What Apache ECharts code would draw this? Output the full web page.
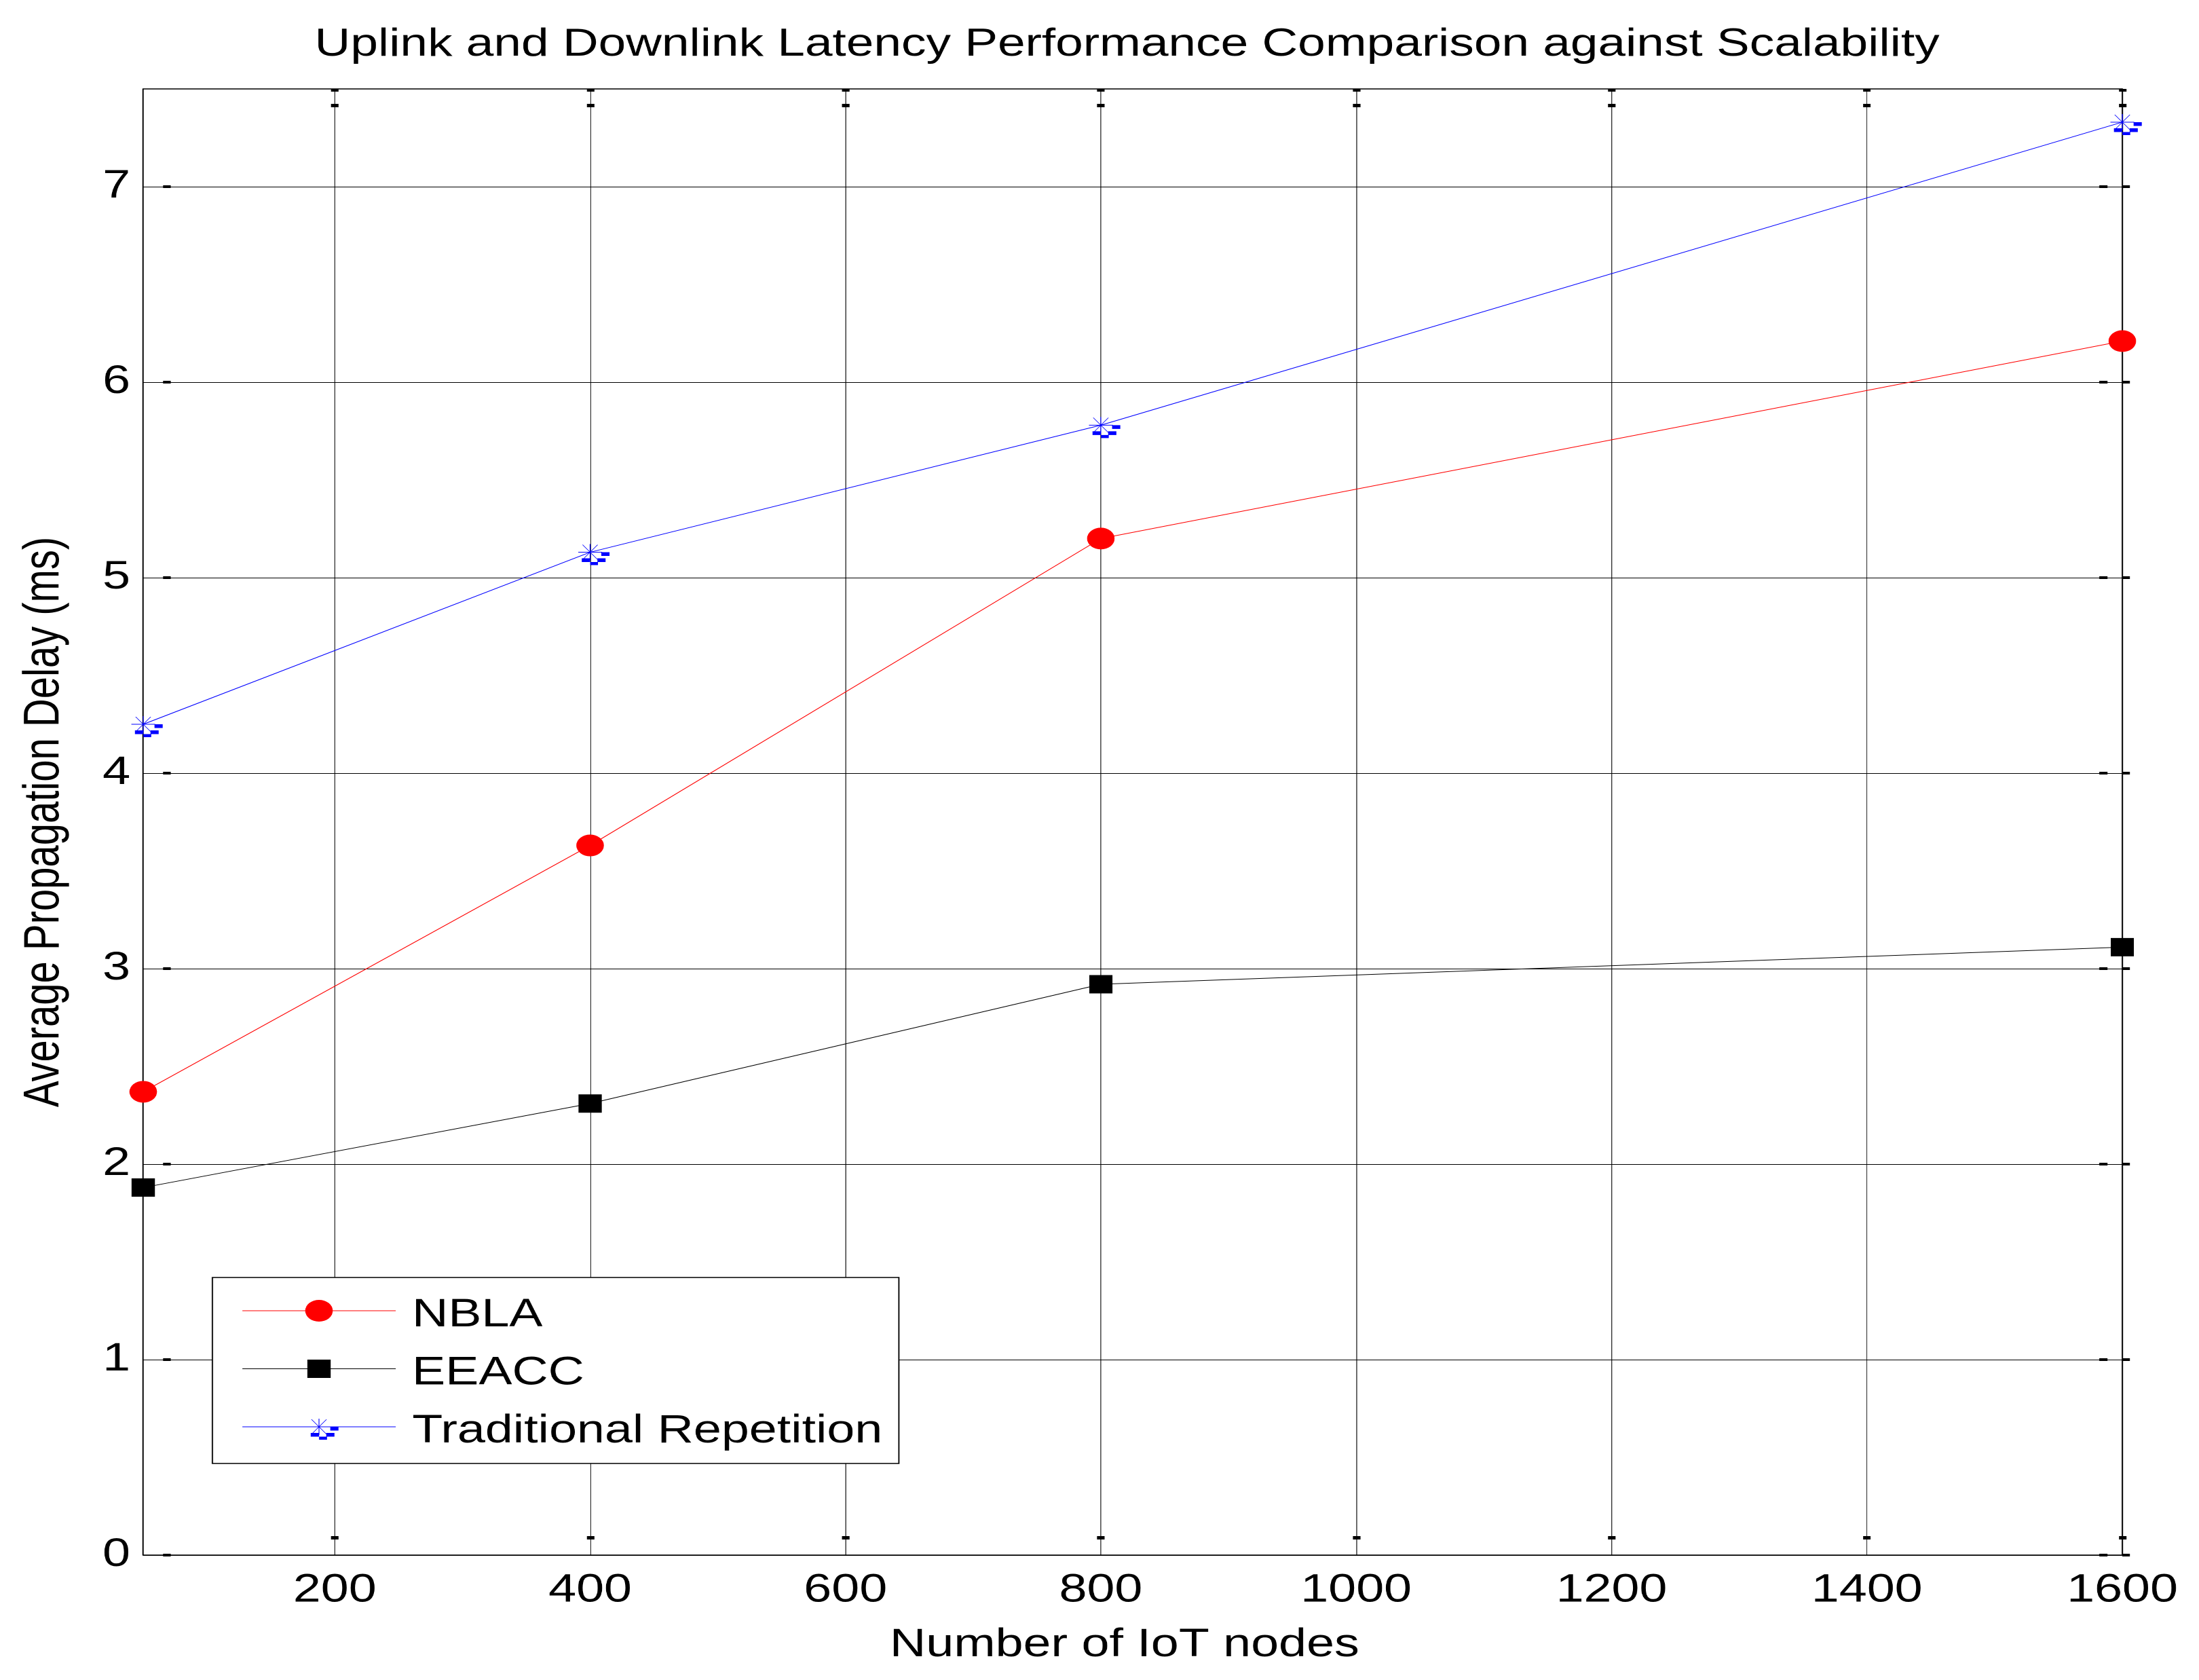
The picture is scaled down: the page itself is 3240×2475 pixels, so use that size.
<!DOCTYPE html>
<html>
<head>
<meta charset="utf-8">
<script src="https://cdn.jsdelivr.net/npm/echarts@6/dist/echarts.min.js"></script>
<style>
  html, body { margin: 0; padding: 0; background: #fff; overflow: hidden; }
  /* the reference figure is stretched sideways, so draw narrow and stretch the same way */
  #chart { width: 2552px; height: 2475px; transform: scaleX(1.269592); transform-origin: 0 0; }
</style>
</head>
<body>
<div id="chart"></div>
<script>
/* ── data ── */
const nodes = [50, 400, 800, 1600];
const nblaDelay = [2.37, 3.63, 5.20, 6.21];
const eeaccDelay = [1.88, 2.31, 2.92, 3.11];
const tradDelay = [4.25, 5.13, 5.78, 7.33];

const xTicks = [200, 400, 600, 800, 1000, 1200, 1400, 1600];
const yTicks = [0, 1, 2, 3, 4, 5, 6, 7];

const seriesNames = ['NBLA', 'EEACC', 'Traditional Repetition'];

/* ── look ── */
const FONT = 'Liberation Sans';
const FS = 58;

// asterisk marker with the little pixel blocks under it (centre at 0,0)
function starPath(dx, dy) {
  const p = (x, y) => (x + dx).toFixed(2) + ' ' + (y + dy).toFixed(2);
  const rect = (x0, y0, x1, y1) => 'M' + p(x0, y0) + ' L' + p(x1, y0) + ' L' + p(x1, y1) + ' L' + p(x0, y1) + ' Z ';
  return rect(-13.8, -0.5, 13.8, 0.5) +
    rect(-0.45, -12, 0.45, 12) +
    'M' + p(-9.2, -11) + ' L' + p(-8.3, -11) + ' L' + p(9.2, 11) + ' L' + p(8.3, 11) + ' Z ' +
    'M' + p(8.3, -11) + ' L' + p(9.2, -11) + ' L' + p(-8.3, 11) + ' L' + p(-9.2, 11) + ' Z ' +
    rect(13.1, 0, 22.6, 5.5) +
    rect(-9.7, 9, 0, 14.5) +
    rect(8.4, 9, 17.9, 14.5) +
    rect(0, 14.5, 9.2, 19);
}
const starSymbol = 'path://' + starPath(0, 0) + 'M-23 -23 L-23 -23 Z M23 23 L23 23 Z';

// legend icons: short line + marker, box 192 x 54, line sits at y=20 so the text lands a bit lower
const iconBox = 'M0 0 L0 0 Z M192 54 L192 54 Z ';
const iconLine = 'M0 19.5 L178 19.5 L178 20.5 L0 20.5 Z ';
const legendIcons = [
  'path://' + iconBox + iconLine + 'M73 20 A16 16 0 1 1 105 20 A16 16 0 1 1 73 20 Z',
  'path://' + iconBox + iconLine + 'M75.5 6.5 L102.5 6.5 L102.5 33.5 L75.5 33.5 Z',
  'path://' + iconBox + iconLine + starPath(89, 20)
];

const txt = { fontFamily: FONT, fontSize: FS, color: '#000', fontWeight: 'normal' };

const chart = echarts.init(document.getElementById('chart'), null, { renderer: 'canvas', devicePixelRatio: 2 });

chart.setOption({
  animation: false,
  backgroundColor: '#fff',
  title: {
    text: 'Uplink and Downlink Latency Performance Comparison against Scalability',
    left: 1308, top: 37, padding: 0,
    textAlign: 'center', textVerticalAlign: 'top',
    textStyle: Object.assign({}, txt, { fontSize: 57.5 })
  },
  grid: { left: 166.2, top: 131, width: 2296.8, height: 2160, outerBoundsMode: 'none', containLabel: false },
  legend: {
    orient: 'vertical', left: 246.5, top: 1882,
    padding: [27, 19, 18, 34.7],
    itemWidth: 192, itemHeight: 54, itemGap: 27.5,
    backgroundColor: '#fff', borderColor: '#000', borderWidth: 1.5, borderRadius: 0,
    selectedMode: false,
    itemStyle: { borderWidth: 0 },
    textStyle: txt,
    data: seriesNames.map((n, i) => ({ name: n, icon: legendIcons[i] }))
  },
  xAxis: [
    {
      type: 'value', position: 'bottom', min: 50, max: 1600,
      name: 'Number of IoT nodes', nameLocation: 'middle', nameGap: 104,
      nameTextStyle: Object.assign({ padding: [0, 19, 0, 0] }, txt),
      axisLine: { show: true, onZero: false, lineStyle: { color: '#000', width: 1.5 } },
      axisTick: { show: true, inside: true, length: 28, customValues: xTicks,
        lineStyle: { color: '#000', width: 8.7, type: [0, 23, 5, 100] } },
      axisLabel: Object.assign({ customValues: xTicks, margin: 23.4, formatter: v => String(v) }, txt),
      splitLine: { show: true, lineStyle: { color: '#000', width: 0.8 } }
    },
    {
      type: 'value', position: 'top', min: 50, max: 1600,
      axisLine: { show: true, onZero: false, lineStyle: { color: '#000', width: 1.5 } },
      axisTick: { show: true, inside: true, length: 27, customValues: xTicks,
        lineStyle: { color: '#000', width: 8.7, type: [4, 18, 5, 100] } },
      axisLabel: { show: false, customValues: xTicks },
      splitLine: { show: false }
    }
  ],
  yAxis: [
    {
      type: 'value', position: 'left', min: 0, max: 7.5,
      name: 'Average Propagation Delay (ms)', nameLocation: 'middle', nameGap: 85, nameRotate: 90, nameTextStyle: txt,
      axisLine: { show: true, onZero: false, lineStyle: { color: '#000', width: 1.5 } },
      axisTick: { show: true, inside: true, length: 32, customValues: yTicks,
        lineStyle: { color: '#000', width: 4, type: [0, 23, 9, 100] } },
      axisLabel: Object.assign({ customValues: yTicks, margin: 15 }, txt),
      splitLine: { show: true, lineStyle: { color: '#000', width: 1 } }
    },
    {
      type: 'value', position: 'right', min: 0, max: 7.5,
      axisLine: { show: true, onZero: false, lineStyle: { color: '#000', width: 1.5 } },
      axisTick: { show: true, inside: true, length: 27, customValues: yTicks,
        lineStyle: { color: '#000', width: 4, type: [0, 17.3, 9.5, 100] } },
      axisLabel: { show: false, customValues: yTicks },
      splitLine: { show: false }
    },
    {
      type: 'value', position: 'right', min: 0, max: 7.5,
      axisLine: { show: false },
      axisTick: { show: true, inside: false, length: 8.7, customValues: yTicks,
        lineStyle: { color: '#000', width: 4 } },
      axisLabel: { show: false, customValues: yTicks },
      splitLine: { show: false }
    }
  ],
  series: [
    {
      name: 'NBLA', type: 'line', clip: false,
      data: nodes.map((x, i) => [x, nblaDelay[i]]),
      symbol: 'circle', symbolSize: 32, color: '#ff0000',
      lineStyle: { color: '#ff0000', width: 1 },
      itemStyle: { color: '#ff0000', borderWidth: 0 }
    },
    {
      name: 'EEACC', type: 'line', clip: false,
      data: nodes.map((x, i) => [x, eeaccDelay[i]]),
      symbol: 'rect', symbolSize: 27, color: '#000000',
      lineStyle: { color: '#000000', width: 1 },
      itemStyle: { color: '#000000', borderWidth: 0 }
    },
    {
      name: 'Traditional Repetition', type: 'line', clip: false,
      data: nodes.map((x, i) => [x, tradDelay[i]]),
      symbol: starSymbol, symbolSize: 46, color: '#0000ff',
      lineStyle: { color: '#0000ff', width: 1 },
      itemStyle: { color: '#0000ff', borderWidth: 0 }
    }
  ]
});
</script>
</body>
</html>
